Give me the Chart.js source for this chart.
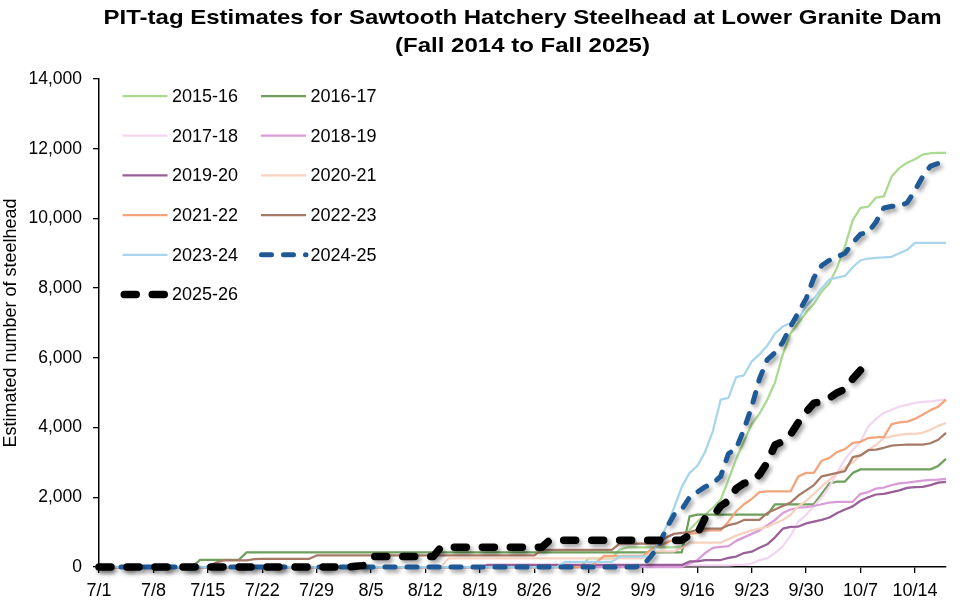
<!DOCTYPE html>
<html><head><meta charset="utf-8">
<script src="https://cdn.jsdelivr.net/npm/chart.js@4.4.1/dist/chart.umd.min.js"></script>
<style>html,body{margin:0;padding:0;background:#fff;}canvas{display:block;}</style>
</head><body>
<canvas id="c" width="965" height="616"></canvas>
<script>
const titleLines = ['PIT-tag Estimates for Sawtooth Hatchery Steelhead at Lower Granite Dam', '(Fall 2014 to Fall 2025)'];
const yAxisTitle = 'Estimated number of steelhead';
const dates = [
'7/1','7/2','7/3','7/4','7/5','7/6','7/7','7/8','7/9','7/10','7/11','7/12','7/13','7/14','7/15','7/16','7/17','7/18','7/19','7/20',
'7/21','7/22','7/23','7/24','7/25','7/26','7/27','7/28','7/29','7/30','7/31',
'8/1','8/2','8/3','8/4','8/5','8/6','8/7','8/8','8/9','8/10','8/11','8/12','8/13','8/14','8/15','8/16','8/17','8/18','8/19','8/20',
'8/21','8/22','8/23','8/24','8/25','8/26','8/27','8/28','8/29','8/30','8/31',
'9/1','9/2','9/3','9/4','9/5','9/6','9/7','9/8','9/9','9/10','9/11','9/12','9/13','9/14','9/15','9/16','9/17','9/18','9/19','9/20',
'9/21','9/22','9/23','9/24','9/25','9/26','9/27','9/28','9/29','9/30',
'10/1','10/2','10/3','10/4','10/5','10/6','10/7','10/8','10/9','10/10','10/11','10/12','10/13','10/14','10/15','10/16','10/17','10/18'];
const seriesNames = ['2015-16','2016-17','2017-18','2018-19','2019-20','2020-21','2021-22','2022-23','2023-24','2024-25','2025-26'];

const s2015_16 = [
0,0,0,0,0,0,0,0,0,0, 0,0,0,0,0,0,0,0,0,0, 0,0,0,0,0,0,0,0,0,0, 0,0,0,0,0,0,0,0,0,0, 0,0,0,0,0,0,0,0,0,0, 0,0,0,0,0,0,0,0,0,0,
0,0,0,250,250,250,250,500,560,560,
560,560,560,560,560,560,1070,1300,1500,1700,
1930,2500,3100,3600,4100,4400,4800,5300,6100,6700,
7000,7300,7550,7900,8150,8600,9200,9950,10300,10340,
10600,10630,11200,11450,11600,11700,11830,11870,11880,11880];
const s2016_17 = [
0,0,0,0,0,0,0,0,0,0,
0,0,0,205,205,205,205,205,205,420,
420,420,420,420,420,420,420,420,420,420, 420,420,420,420,420,420,420,420,420,420, 420,420,420,420,420,420,420,420,420,420,
420,420,420,420,420,420,420,420,420,420, 420,420,420,420,420,420,420,420,420,420,
420,420,420,420,420,420,1450,1500,1500,1500,
1500,1500,1500,1500,1500,1500,1500,1800,1800,1800,
1800,1800,1800,2100,2400,2450,2450,2700,2800,2800,
2800,2800,2800,2800,2800,2800,2800,2800,2900,3100];
const s2017_18 = [
0,0,0,0,0,0,0,0,0,0, 0,0,0,0,0,0,0,0,0,0, 0,0,0,0,0,0,0,0,0,0, 0,0,0,0,0,0,0,0,0,0, 0,0,0,0,0,0,0,0,0,0, 0,0,0,0,0,0,0,0,0,0, 0,0,0,0,0,0,0,0,0,0,
50,50,50,50,50,50,50,50,50,50,
50,50,60,60,100,200,250,400,600,900,
1300,1500,1740,2000,2310,2700,3100,3360,3600,4030,
4250,4420,4510,4600,4650,4710,4740,4750,4780,4800];
const s2018_19 = [
0,0,0,0,0,0,0,0,0,0, 0,0,0,0,0,0,0,0,0,0, 0,0,0,0,0,0,0,0,0,0, 0,0,0,0,0,0,0,0,0,0, 0,0,0,0,0,0,0,0,0,0, 0,0,0,0,0,0,0,0,0,0, 0,0,0,0,0,0,0,0,0,0,
0,0,0,0,0,0,100,200,400,550,
580,600,750,850,950,1050,1200,1350,1550,1650,
1700,1720,1750,1800,1850,1870,1870,1870,2100,2150,
2250,2280,2350,2400,2420,2450,2480,2500,2510,2530];
const s2019_20 = [
0,0,0,0,0,0,0,0,0,0, 0,0,0,0,0,0,0,0,0,0, 0,0,0,0,0,0,0,0,0,0, 0,0,0,0,0,0,0,0,0,0, 0,0,0,0,0,0,0,0,0,0,
60,60,60,60,60,60,60,60,60,60, 60,60,60,60,60,60,60,60,60,60,
60,60,60,60,60,60,160,160,200,200,
200,260,300,400,440,550,650,850,1100,1150,
1160,1250,1300,1350,1420,1550,1650,1740,1900,2000,
2080,2100,2150,2200,2270,2290,2300,2350,2420,2440];
const s2020_21 = [
0,0,0,0,0,0,0,0,0,0, 0,0,0,0,0,0,0,0,0,0, 0,0,0,0,0,0,0,0,0,0, 0,0,0,0,0,0,0,0,0,0,
0,0,0,0,0,250,250,250,250,250,
250,250,250,250,250,250,250,250,250,250, 250,250,250,250,250,250,250,250,250,250,
250,450,450,450,450,550,700,700,700,700,
700,800,900,980,1050,1100,1150,1250,1350,1500,
1740,1900,2100,2310,2500,2700,2850,3000,3200,3360,
3500,3700,3750,3790,3820,3820,3850,3940,4050,4130];
const s2021_22 = [
0,0,0,0,0,0,0,0,0,0, 0,0,0,0,0,0,0,0,0,0, 0,0,0,0,0,0,0,0,0,0, 0,0,0,0,0,0,0,0,0,0, 0,0,0,0,0,0,0,0,0,0, 0,0,0,0,0,0,0,0,0,0,
0,0,0,0,130,320,320,320,320,320,
320,500,600,700,780,780,950,980,1050,1050,
1050,1300,1600,1800,1950,2150,2170,2170,2170,2170,
2600,2700,2700,3050,3130,3300,3380,3560,3590,3700,
3720,3730,4100,4150,4170,4250,4370,4500,4600,4800];
const s2022_23 = [
0,0,0,0,0,0,0,0,0,0,
0,0,0,0,0,120,190,190,190,190,
225,230,230,230,230,230,230,230,330,330,
330,330,330,330,330,330,330,330,330,330, 330,330,330,330,330,330,330,330,330,330,
330,330,330,330,330,330,330,490,490,490,
490,490,490,490,490,490,490,670,670,670,
670,670,670,850,950,980,1000,1070,1100,1100,
1100,1200,1250,1350,1350,1350,1550,1650,1750,1850,
2050,2200,2350,2600,2650,2700,2750,3150,3200,3350,
3370,3420,3480,3500,3510,3510,3510,3550,3650,3850];
const s2023_24 = [
0,0,0,0,0,0,0,0,0,0, 0,0,0,0,0,0,0,0,0,0, 0,0,0,0,0,0,0,0,0,0, 0,0,0,0,0,0,0,0,0,0, 0,0,0,0,0,0,0,0,0,0, 0,0,0,0,0,0,0,0,0,0,
150,150,150,150,150,150,150,300,300,300,
300,300,700,1150,1700,2300,2700,2900,3300,3900,
4800,4850,5450,5500,5900,6100,6350,6700,6900,7000,
7100,7500,7700,8000,8250,8300,8350,8600,8800,8850,
8870,8880,8900,9000,9100,9300,9300,9300,9300,9300];
const s2024_25 = [
0,0,0,0,0,0,0,0,0,0, 0,0,0,0,0,0,0,0,0,0, 0,0,0,0,0,0,0,0,0,0, 0,0,0,0,0,0,0,0,0,0, 0,0,0,0,0,0,0,0,0,0, 0,0,0,0,0,0,0,0,0,0, 0,0,0,0,0,0,0,0,0,0,
50,300,600,1100,1500,1650,2000,2150,2300,2400,
2600,3250,3400,3950,4600,5400,5950,6150,6450,6900,
7300,7700,8300,8650,8800,8900,9000,9300,9550,9600,
9900,10300,10350,10350,10450,10800,11200,11500,11580,11630];
const s2025_26 = [
0,0,0,0,0,0,0,0,0,0, 0,0,0,0,0,0,0,0,0,0, 0,0,0,0,0,0,0,0,0,0,
0,0,0,20,40,300,300,300,300,300,
300,300,300,300,570,570,570,570,570,570,
570,570,570,570,570,570,570,570,770,770,
770,770,770,770,770,770,770,770,770,770,
770,770,770,770,770,770,920,950,1400,1450,
1750,1900,2250,2400,2450,2650,3000,3500,3600,3800,
4150,4450,4700,4750,4850,5000,5100,5400,5650];

const seriesValues = [s2015_16,s2016_17,s2017_18,s2018_19,s2019_20,s2020_21,s2021_22,s2022_23,s2023_24,s2024_25,s2025_26];
const yTicks = [0,2000,4000,6000,8000,10000,12000,14000];

// styles (kept separate from data)
const lineColors = ['#A9DA90','#6E9F5C','#F2D6F0','#D99CD7','#9A5E99','#F8D2C0','#F2A57D','#A67A66','#A7D6EC','#1F5A97','#000000'];
const lineWidths = [2.25,2.25,2.25,2.25,2.25,2.25,2.25,2.25,2.25,5,7.5];
const lineDashes = [[],[],[],[],[],[],[],[],[],[10,12],[12,16]];
const FONT = '"Liberation Sans", Arial, sans-serif';

const datasets = seriesNames.map((name, i) => ({
  label: name,
  data: seriesValues[i],
  borderColor: lineColors[i],
  backgroundColor: lineColors[i],
  borderWidth: lineWidths[i],
  borderDash: lineDashes[i],
  borderCapStyle: lineDashes[i].length ? 'round' : 'butt',
  borderJoinStyle: 'round',
  pointRadius: 0,
  tension: 0,
  fill: false,
  clip: false,
  order: 20 - i,
  shadow: lineDashes[i].length > 0
}));

const shadowPlugin = {
  id: 'shadowPlugin',
  beforeDatasetDraw(chart, args) {
    const ds = chart.data.datasets[args.index];
    if (ds.shadow) {
      const ctx = chart.ctx;
      ctx.save();
      ctx.shadowColor = 'rgba(0,0,0,0.38)';
      ctx.shadowBlur = 4;
      ctx.shadowOffsetX = 2.5;
      ctx.shadowOffsetY = 3;
    }
  },
  afterDatasetDraw(chart, args) {
    if (chart.data.datasets[args.index].shadow) chart.ctx.restore();
  }
};

const titlePlugin = {
  id: 'titlePlugin',
  afterDraw(chart) {
    const ctx = chart.ctx;
    const ca = chart.chartArea;
    const cx = (ca.left + ca.right) / 2;
    ctx.save();
    ctx.fillStyle = '#000';
    ctx.font = 'bold 21px ' + FONT;
    ctx.textBaseline = 'alphabetic';
    ctx.textAlign = 'center';
    const w0 = ctx.measureText(titleLines[0]).width;
    const sx = 838 / w0;
    const baselines = [24, 52];
    titleLines.forEach((t, k) => {
      ctx.save();
      ctx.translate(cx, baselines[k]);
      ctx.scale(sx, 1);
      ctx.fillText(t, 0, 0);
      ctx.restore();
    });
    ctx.restore();
  }
};

const legendPlugin = {
  id: 'legendPlugin',
  afterDraw(chart) {
    const ctx = chart.ctx;
    ctx.save();
    chart.data.datasets.forEach((d, i) => {
      const col = i % 2, row = Math.floor(i / 2);
      const y = 96 + row * 39.7;
      const x0 = col === 0 ? 122.5 : 261;
      const dashed = d.borderDash && d.borderDash.length;
      ctx.save();
      ctx.strokeStyle = d.borderColor;
      ctx.lineWidth = d.borderWidth;
      ctx.setLineDash(d.borderDash || []);
      ctx.lineCap = dashed ? 'round' : 'butt';
      ctx.beginPath();
      const start = dashed ? x0 - 2 + d.borderWidth / 2 : x0;
      ctx.moveTo(start, y);
      ctx.lineTo(x0 + 45, y);
      ctx.stroke();
      ctx.restore();
      ctx.fillStyle = '#000';
      ctx.font = '18px ' + FONT;
      ctx.textBaseline = 'middle';
      ctx.textAlign = 'left';
      ctx.fillText(d.label, x0 + 49.5, y + 1);
    });
    ctx.restore();
  }
};

new Chart(document.getElementById('c'), {
  type: 'line',
  data: { labels: dates, datasets: datasets },
  options: {
    responsive: false,
    animation: false,
    devicePixelRatio: 1,
    layout: { padding: { left: 0, right: 19, top: 79, bottom: 0 } },
    plugins: { legend: { display: false }, title: { display: false }, tooltip: { enabled: false } },
    scales: {
      x: {
        type: 'category',
        grid: { display: true, drawOnChartArea: false, drawTicks: true, tickLength: 6, color: '#000', lineWidth: 1.3 },
        border: { display: true, color: '#000', width: 1.5 },
        ticks: {
          autoSkip: false, maxRotation: 0, minRotation: 0, padding: 7, color: '#000',
          font: { family: FONT, size: 18 },
          callback: function(v, i) { return i % 7 === 0 ? dates[i] : null; }
        },
        afterFit(scale) { scale.height = 49; }
      },
      y: {
        min: 0, max: 14000,
        afterBuildTicks(scale) { scale.ticks = yTicks.map(v => ({ value: v })); },
        grid: { display: true, drawOnChartArea: false, drawTicks: true, tickLength: 6, color: '#000', lineWidth: 1.3 },
        border: { display: true, color: '#000', width: 1.5 },
        ticks: {
          padding: 11, color: '#000', font: { family: FONT, size: 17.5 },
          callback: function(v) { return Number(v).toLocaleString('en-US'); }
        },
        title: { display: true, text: yAxisTitle, color: '#000', font: { family: FONT, size: 18 }, padding: { top: 0, bottom: 0 } },
        afterFit(scale) { scale.width = 99; }
      }
    }
  },
  plugins: [shadowPlugin, titlePlugin, legendPlugin]
});
</script>
</body></html>
